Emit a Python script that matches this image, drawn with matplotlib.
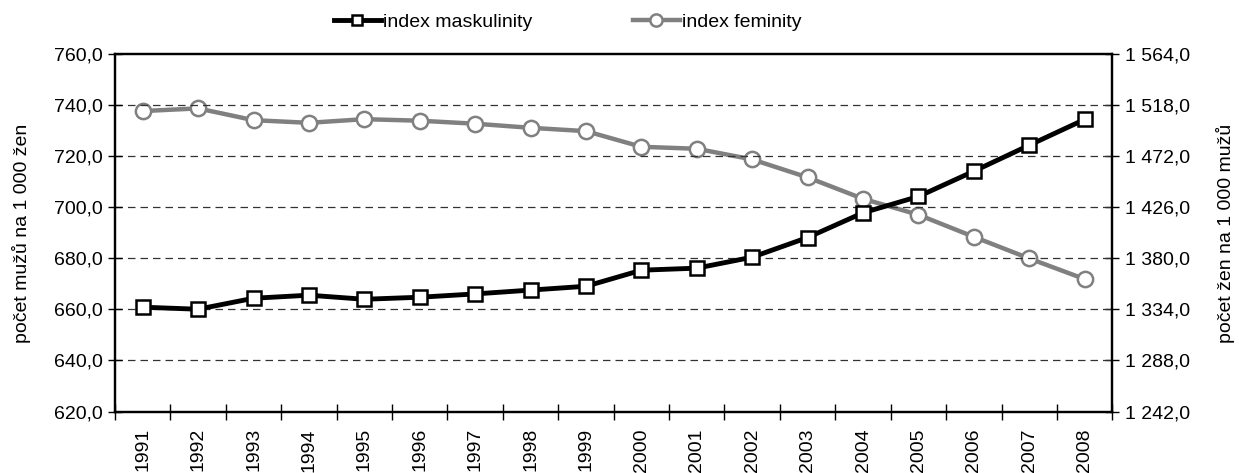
import numpy as np
import matplotlib.pyplot as plt
from matplotlib.ticker import FixedLocator

plt.rcParams['font.family'] = ['Liberation Sans', 'DejaVu Sans']
fs = 14

years = [str(y) for y in range(1991, 2009)]
maskulinity = [660.9, 660.1, 664.4, 665.6, 664.0, 664.8, 666.1, 667.6, 669.1,
               675.4, 676.2, 680.5, 688.2, 697.9, 704.3, 714.2, 724.4, 734.5]
feminity = [1512.9, 1515.3, 1504.7, 1502.3, 1505.6, 1504.2, 1501.5, 1497.8, 1494.8,
            1480.7, 1478.9, 1469.3, 1453.1, 1433.8, 1419.4, 1399.5, 1380.0, 1361.4]

left_ticks = [620, 640, 660, 680, 700, 720, 740, 760]
right_ticks = [1242, 1288, 1334, 1380, 1426, 1472, 1518, 1564]


def cz(v):
    s = '%.1f' % v
    whole, dec = s.split('.')
    if len(whole) > 3:
        whole = whole[:-3] + ' ' + whole[-3:]
    return whole + ',' + dec


fig = plt.figure(figsize=(12.39, 4.73), dpi=100)
ax = fig.add_axes([0.0928, 0.130, 0.805, 0.755])
ax2 = ax.twinx()

x = np.arange(len(years))

l1, = ax.plot(x, maskulinity, color='black', linewidth=3.5, marker='s', markersize=9.5,
              markerfacecolor='white', markeredgecolor='black', markeredgewidth=1.8,
              zorder=4)
l2, = ax2.plot(x, feminity, color='#808080', linewidth=3.2, marker='o', markersize=11,
               markerfacecolor='white', markeredgecolor='#808080', markeredgewidth=1.8,
               zorder=3)

ax.set_xlim(-0.5, len(years) - 0.5)
ax.set_ylim(620, 760)
ax2.set_ylim(1242, 1564)

ax.set_yticks(left_ticks)
ax.set_yticklabels([cz(v) for v in left_ticks], fontsize=fs)
ax2.set_yticks(right_ticks)
ax2.set_yticklabels([cz(v) for v in right_ticks], fontsize=fs)

ax.set_xticks(x)
ax.set_xticklabels(years, rotation=90, fontsize=fs)
ax.tick_params(axis='x', which='major', length=0, pad=12)
ax.xaxis.set_minor_locator(FixedLocator(np.arange(-0.5, len(years), 1)))
ax.tick_params(axis='x', which='minor', length=11, direction='inout', width=1)
ax.tick_params(axis='y', length=10, width=1, direction='inout', pad=4)
ax2.tick_params(axis='y', length=10, width=1, direction='inout', pad=4)

for v in left_ticks[1:-1]:
    ax.axhline(v, color='#333333', linewidth=0.9, linestyle=(0, (6, 4)), zorder=1)

for sp in ax.spines.values():
    sp.set_linewidth(1.6)
for sp in ax2.spines.values():
    sp.set_linewidth(1.6)

ax.set_ylabel('počet mužů na 1 000 žen', fontsize=fs, labelpad=16)
ax2.set_ylabel('počet žen na 1 000 mužů', fontsize=fs, labelpad=19)

ax.set_zorder(ax2.get_zorder() + 1)
ax.patch.set_visible(False)

fig.legend([l1, l2], ['index maskulinity', 'index feminity'], loc='center',
           bbox_to_anchor=(0.458, 0.953), ncol=2, frameon=False, fontsize=fs,
           handlelength=2.4, handletextpad=0.1, columnspacing=5.2, markerscale=0.8)

plt.savefig('out.png', dpi=100)
